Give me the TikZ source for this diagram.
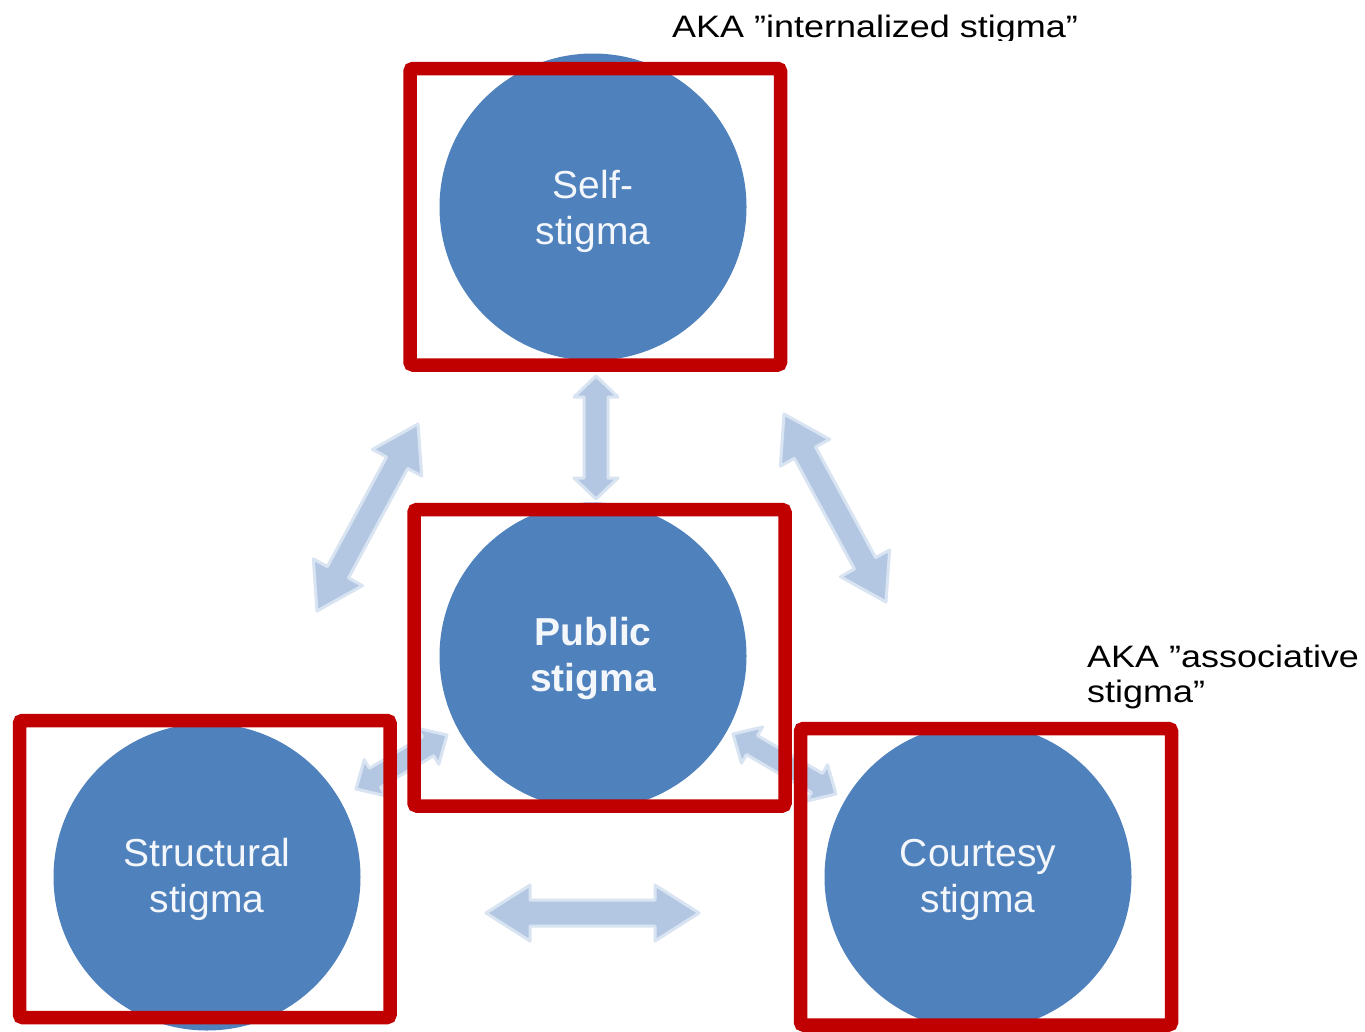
\documentclass[tikz,border=0pt]{standalone}
\usepackage{fontspec}
\setmainfont{Liberation Sans}
\usetikzlibrary{calc}
\definecolor{circblue}{HTML}{4F81BD}
\definecolor{redframe}{HTML}{C00000}
\definecolor{arrowfill}{HTML}{B4C7E2}
\definecolor{arrowglow}{HTML}{D9E4F2}
\definecolor{circtext}{HTML}{F3F6FB}
% #1 tip A, #2 tip B, #3 shaft half width, #4 head half width, #5 head length
\newcommand\fatarrow[5]{%
  \path[fatarr] (#1)
    -- ($(#1)!#5!(#2)!#4!90:(#2)$)
    -- ($(#1)!#5!(#2)!#3!90:(#2)$)
    -- ($(#2)!#5!(#1)!#3!-90:(#1)$)
    -- ($(#2)!#5!(#1)!#4!-90:(#1)$)
    -- (#2)
    -- ($(#2)!#5!(#1)!#4!90:(#1)$)
    -- ($(#2)!#5!(#1)!#3!90:(#1)$)
    -- ($(#1)!#5!(#2)!#3!-90:(#2)$)
    -- ($(#1)!#5!(#2)!#4!-90:(#2)$)
    -- cycle;}
\newcommand\topstrut[1]{\rule{0pt}{#1}}
\begin{document}
\begin{tikzpicture}[x=1pt,y=-1pt,
  fatarr/.style={fill=arrowfill,draw=arrowglow,line width=3pt,line join=round},
  stigcirc/.style={circle,minimum size=307pt,inner sep=0pt,fill=circblue,
    text=circtext,align=center,font=\fontsize{39}{46}\selectfont},
  redbox/.style={draw=redframe,line width=13.5pt,rounded corners=3pt},
  annot/.style={text=black,inner sep=0pt,font=\fontsize{31}{35}\selectfont}]
\useasboundingbox[fill=white] (0,0) rectangle (1365,1031);

% arrow end points
\coordinate (vA) at (596,376);  \coordinate (vB) at (596,499);
\coordinate (lA) at (317,611);  \coordinate (lB) at (418,424);
\coordinate (rA) at (784,414);  \coordinate (rB) at (886,602);
\coordinate (hA) at (486,913);  \coordinate (hB) at (699,913);
\coordinate (slA) at (356,789); \coordinate (slB) at (447,735);
\coordinate (srA) at (733,734); \coordinate (srB) at (836,794);

\fatarrow{vA}{vB}{12pt}{22pt}{21pt}
\fatarrow{lA}{lB}{12pt}{28pt}{44pt}
\fatarrow{rA}{rB}{12pt}{28pt}{44pt}
\fatarrow{hA}{hB}{13pt}{28pt}{44pt}
\fatarrow{slA}{slB}{11pt}{21pt}{22pt}
\fatarrow{srA}{srB}{11pt}{21pt}{22pt}

% circles
\node[stigcirc] (self) at (593,207) {\topstrut{37pt}Self-\\stigma};
\node[stigcirc,font=\fontsize{39}{46}\selectfont\bfseries] (public) at (593,656)
  {\topstrut{32.5pt}Public\\stigma};
\node[stigcirc] (struct) at (207,877) {\topstrut{34pt}Structural\\stigma};
\node[stigcirc] (court) at (978,877) {\topstrut{34pt}Courtesy\\stigma};

% red frames
\draw[redbox] (410,68.5) rectangle (780.5,365);
\draw[redbox] (414,509.5) rectangle (785,806);
\draw[redbox] (19.5,720.5) rectangle (390,1017.5);
\draw[redbox] (800.5,728.5) rectangle (1171.5,1025);

% annotations
\begin{scope}
  \clip (600,0) rectangle (1200,40);
  \node[annot,anchor=base west] (akaself) at (672,37)
    {\scalebox{1.16}[1]{AKA ”internalized stigma”}};
\end{scope}
\node[annot,anchor=base west] (akacourt1) at (1087,667)
  {\scalebox{1.16}[1]{AKA ”associative}};
\node[annot,anchor=base west] (akacourt2) at (1087,702)
  {\scalebox{1.16}[1]{stigma”}};
\end{tikzpicture}
\end{document}
